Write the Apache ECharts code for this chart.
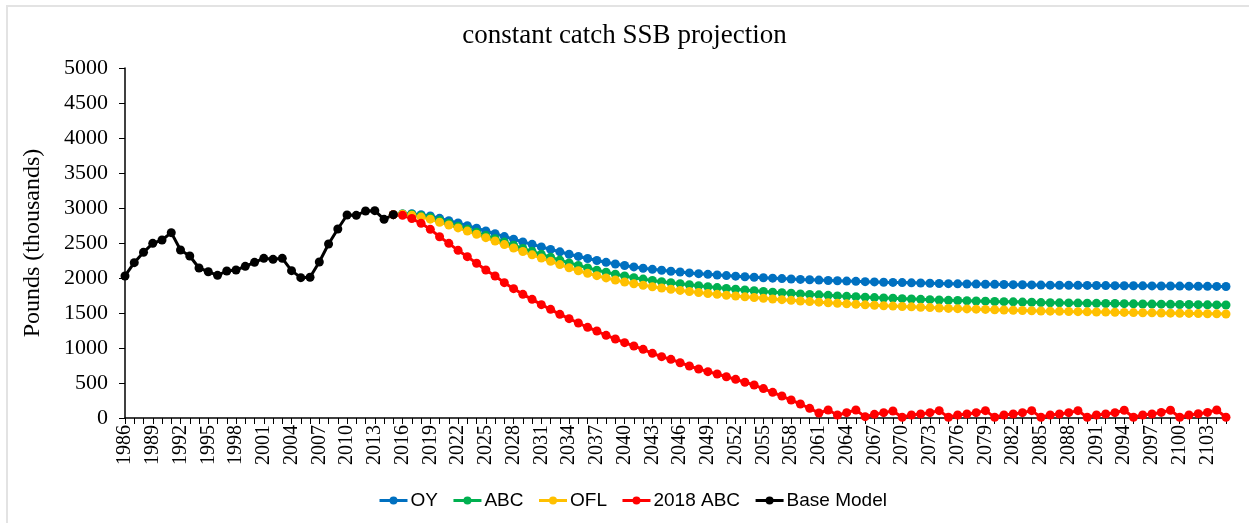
<!DOCTYPE html>
<html>
<head>
<meta charset="utf-8">
<script src="https://cdn.jsdelivr.net/npm/echarts@6/dist/echarts.min.js"></script>
<style>
  html, body { margin: 0; padding: 0; background: #fff; }
  #frame { position: absolute; left: 6px; top: 5px; width: 1260px; height: 540px;
           border-left: 2px solid #e3e3e3; border-top: 2px solid #e3e3e3; }
  #chart { position: absolute; left: 0; top: 0; width: 1249px; height: 523px; }
</style>
</head>
<body>
<div id="frame"></div>
<div id="chart"></div>
<script>
// x categories: 1986 .. 2105
const years = []
for (let y = 1986; y <= 2105; y++) years.push(String(y))

// Base Model 1986 - 2015
const baseModel = [
  2029, 2219, 2367, 2495, 2543, 2648, 2400, 2314, 2143, 2090,
  2038, 2100, 2114, 2167, 2224, 2281, 2267, 2281, 2105, 2005,
  2010, 2229, 2486, 2700, 2900, 2895, 2957, 2962, 2838, 2905
]

// projections 2015 - 2105
const oy = [
  2905, 2915, 2918, 2905, 2886, 2852, 2819, 2786, 2748, 2710,
  2671, 2633, 2592, 2554, 2516, 2481, 2444, 2408, 2374, 2340,
  2308, 2278, 2250, 2224, 2200, 2178, 2158, 2140, 2124, 2110,
  2097, 2085, 2073, 2062, 2052, 2043, 2034, 2026, 2018, 2011,
  2004, 1998, 1992, 1986, 1980, 1975, 1970, 1965, 1960, 1956,
  1952, 1948, 1944, 1940, 1937, 1934, 1931, 1928, 1925, 1922,
  1919, 1917, 1915, 1913, 1911, 1909, 1907, 1905, 1903, 1901,
  1899, 1898, 1897, 1896, 1895, 1894, 1893, 1892, 1891, 1890,
  1889, 1888, 1887, 1886, 1885, 1884, 1883, 1882, 1881, 1880,
  1879
]

const abc = [
  2905, 2915, 2910, 2890, 2864, 2822, 2782, 2741, 2696, 2652,
  2606, 2561, 2513, 2468, 2423, 2381, 2338, 2296, 2256, 2216,
  2178, 2144, 2112, 2082, 2054, 2028, 2005, 1984, 1965, 1948,
  1933, 1919, 1903, 1889, 1875, 1863, 1851, 1839, 1828, 1818,
  1807, 1798, 1790, 1782, 1773, 1766, 1759, 1752, 1744, 1738,
  1732, 1726, 1720, 1714, 1710, 1705, 1700, 1695, 1691, 1686,
  1681, 1678, 1675, 1672, 1669, 1665, 1662, 1659, 1656, 1653,
  1649, 1647, 1645, 1644, 1642, 1640, 1638, 1636, 1635, 1633,
  1631, 1629, 1627, 1626, 1624, 1622, 1621, 1619, 1617, 1616,
  1614
]

const ofl = [
  2905, 2910, 2898, 2870, 2841, 2797, 2757, 2716, 2670, 2625,
  2576, 2528, 2477, 2429, 2378, 2331, 2284, 2238, 2192, 2146,
  2103, 2067, 2033, 2001, 1971, 1943, 1918, 1896, 1875, 1857,
  1839, 1823, 1807, 1793, 1779, 1767, 1754, 1743, 1731, 1721,
  1710, 1700, 1691, 1681, 1672, 1663, 1655, 1647, 1638, 1631,
  1624, 1617, 1611, 1604, 1599, 1593, 1588, 1582, 1577, 1571,
  1566, 1562, 1558, 1555, 1551, 1547, 1543, 1540, 1536, 1532,
  1528, 1526, 1524, 1521, 1519, 1517, 1515, 1513, 1510, 1508,
  1506, 1504, 1502, 1500, 1498, 1496, 1494, 1492, 1490, 1488,
  1486
]

const abc2018 = [
  2905, 2895, 2850, 2781, 2695, 2590, 2495, 2395, 2305, 2210,
  2114, 2029, 1933, 1848, 1767, 1695, 1619, 1552, 1481, 1419,
  1357, 1295, 1243, 1181, 1129, 1076, 1029, 981, 924, 876,
  838, 790, 743, 700, 662, 629, 590, 552, 510, 471,
  420, 367, 314, 257, 200, 138, 71, 114, 43, 76,
  114, 19, 52, 76, 100, 10, 43, 57, 76, 105,
  10, 43, 57, 76, 105, 10, 43, 57, 76, 105,
  10, 43, 57, 76, 105, 10, 43, 57, 76, 110,
  10, 43, 57, 80, 110, 10, 43, 60, 80, 114,
  10
]

// pad series onto the full year axis
const projStart = years.indexOf("2015")
function padProj(arr) {
  return new Array(projStart).fill(null).concat(arr)
}
function padBase(arr) {
  return arr.concat(new Array(years.length - arr.length).fill(null))
}

const serif = "Liberation Serif"
const sans = "Liberation Sans"

function lineSeries(name, color, data) {
  return {
    name: name,
    type: "line",
    data: data,
    symbol: "circle",
    symbolSize: 9,
    showSymbol: true,
    showAllSymbol: true,
    connectNulls: false,
    animation: false,
    lineStyle: { color: color, width: 3 },
    itemStyle: { color: color }
  }
}

const myChart = echarts.init(document.getElementById("chart"))
const option = {
  animation: false,
  title: {
    text: "constant catch SSB projection",
    left: "center",
    top: 17,
    textStyle: { fontFamily: serif, fontSize: 27, fontWeight: "normal", color: "#000" }
  },
  legend: {
    top: 491,
    left: 378,
    padding: 0,
    itemWidth: 28,
    itemHeight: 10,
    itemGap: 14,
    lineStyle: { width: 3 },
    textStyle: { fontFamily: sans, fontSize: 19, color: "#000", padding: [0, 0, 0, -2] },
    data: ["OY", "ABC", "OFL", "2018 ABC", "Base Model"]
  },
  grid: { left: 125, right: 23, top: 68, bottom: 105 },
  xAxis: {
    type: "category",
    data: years,
    boundaryGap: false,
    axisLine: { lineStyle: { color: "#000", width: 1.5 } },
    axisTick: { show: true, interval: 0, length: 6, lineStyle: { color: "#000" } },
    axisLabel: {
      interval: 2,
      rotate: 90,
      color: "#000",
      fontFamily: serif,
      fontSize: 20,
      margin: 7
    },
    splitLine: { show: false }
  },
  yAxis: {
    type: "value",
    min: 0,
    max: 5000,
    interval: 500,
    name: "Pounds (thousands)",
    nameLocation: "middle",
    nameGap: 80,
    nameTextStyle: { fontFamily: serif, fontSize: 24, color: "#000" },
    axisLine: { show: true, lineStyle: { color: "#000", width: 1.5 } },
    axisTick: { show: true, length: 6, lineStyle: { color: "#000" } },
    axisLabel: {
      color: "#000",
      fontFamily: serif,
      fontSize: 22,
      margin: 17,
      formatter: function (v) { return String(v) }
    },
    splitLine: { show: false }
  },
  series: [
    lineSeries("OY", "#0070C0", padProj(oy)),
    lineSeries("ABC", "#00B050", padProj(abc)),
    lineSeries("OFL", "#FFC000", padProj(ofl)),
    lineSeries("2018 ABC", "#FF0000", padProj(abc2018)),
    lineSeries("Base Model", "#000000", padBase(baseModel))
  ]
}
myChart.setOption(option)
</script>
</body>
</html>
